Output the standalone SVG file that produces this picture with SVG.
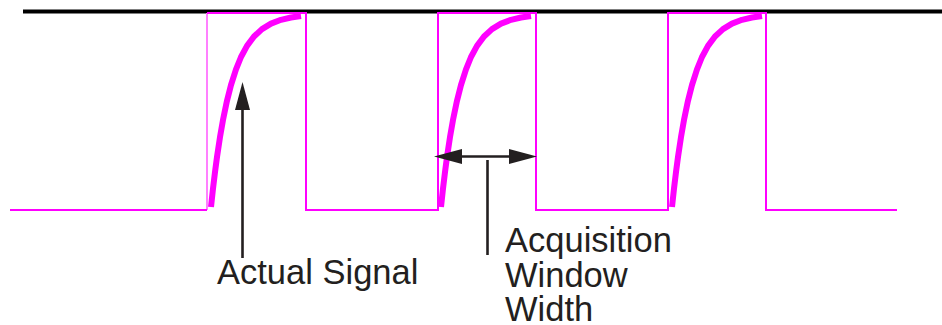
<svg xmlns="http://www.w3.org/2000/svg" width="942" height="325" viewBox="0 0 942 325">
<style>
.sq{fill:none;stroke:#ff00ff;stroke-width:2}
.cv{fill:none;stroke:#ff00ff;stroke-width:6;stroke-linejoin:round}
.ln{fill:none;stroke:#231f20;stroke-width:2.6}
.lbl{font-family:"Liberation Sans",Arial,sans-serif;font-size:34.5px;fill:#231f20}
</style>
<defs>
<marker id="ah" markerUnits="userSpaceOnUse" markerWidth="28" markerHeight="15" refX="0" refY="7.5" orient="auto-start-reverse" viewBox="0 0 28 15">
<path d="M0,0 L28,7.5 L0,15 z" fill="#231f20"/>
</marker>
<path id="curve" d="M0,207 L2,188.7 L4,172.1 L6,157 L9,137.1 L12,119.9 L16,100.7 L20,85 L25,69.4 L30,57 L36,45.9 L43,36.5 L51,29.1 L60,23.6 L70,19.8 L80,17.5 L90,16"/>
</defs>
<g id="reference-line">
<line x1="23" y1="11.5" x2="942" y2="11.5" stroke="#000" stroke-width="4"/>
</g>
<g id="sampling-signal">
<line x1="207" y1="13" x2="207" y2="210" stroke="#ff80ff" stroke-width="2"/>
<path class="sq" d="M10,210 H207 M207,13 H306 V210 H438 V13 H536 V210 H668 V13 H766 V210 H897"/>
</g>
<g id="actual-signal">
<use href="#curve" class="cv" transform="translate(211,0)"/>
<use href="#curve" class="cv" transform="translate(441,0)"/>
<use href="#curve" class="cv" transform="translate(672,0)"/>
</g>
<g id="connectors">
<line class="ln" x1="242.5" y1="258" x2="242.5" y2="110" marker-end="url(#ah)"/>
<line class="ln" x1="462" y1="156.5" x2="509" y2="156.5" marker-start="url(#ah)" marker-end="url(#ah)"/>
<line class="ln" x1="487.5" y1="160" x2="487.5" y2="255"/>
</g>
<g id="label-actual">
<text class="lbl" x="217" y="284">Actual Signal</text>
</g>
<g id="label-window">
<text class="lbl" x="505" y="252">Acquisition</text>
<text class="lbl" x="505" y="287">Window</text>
<text class="lbl" x="505" y="321">Width</text>
</g>
</svg>
